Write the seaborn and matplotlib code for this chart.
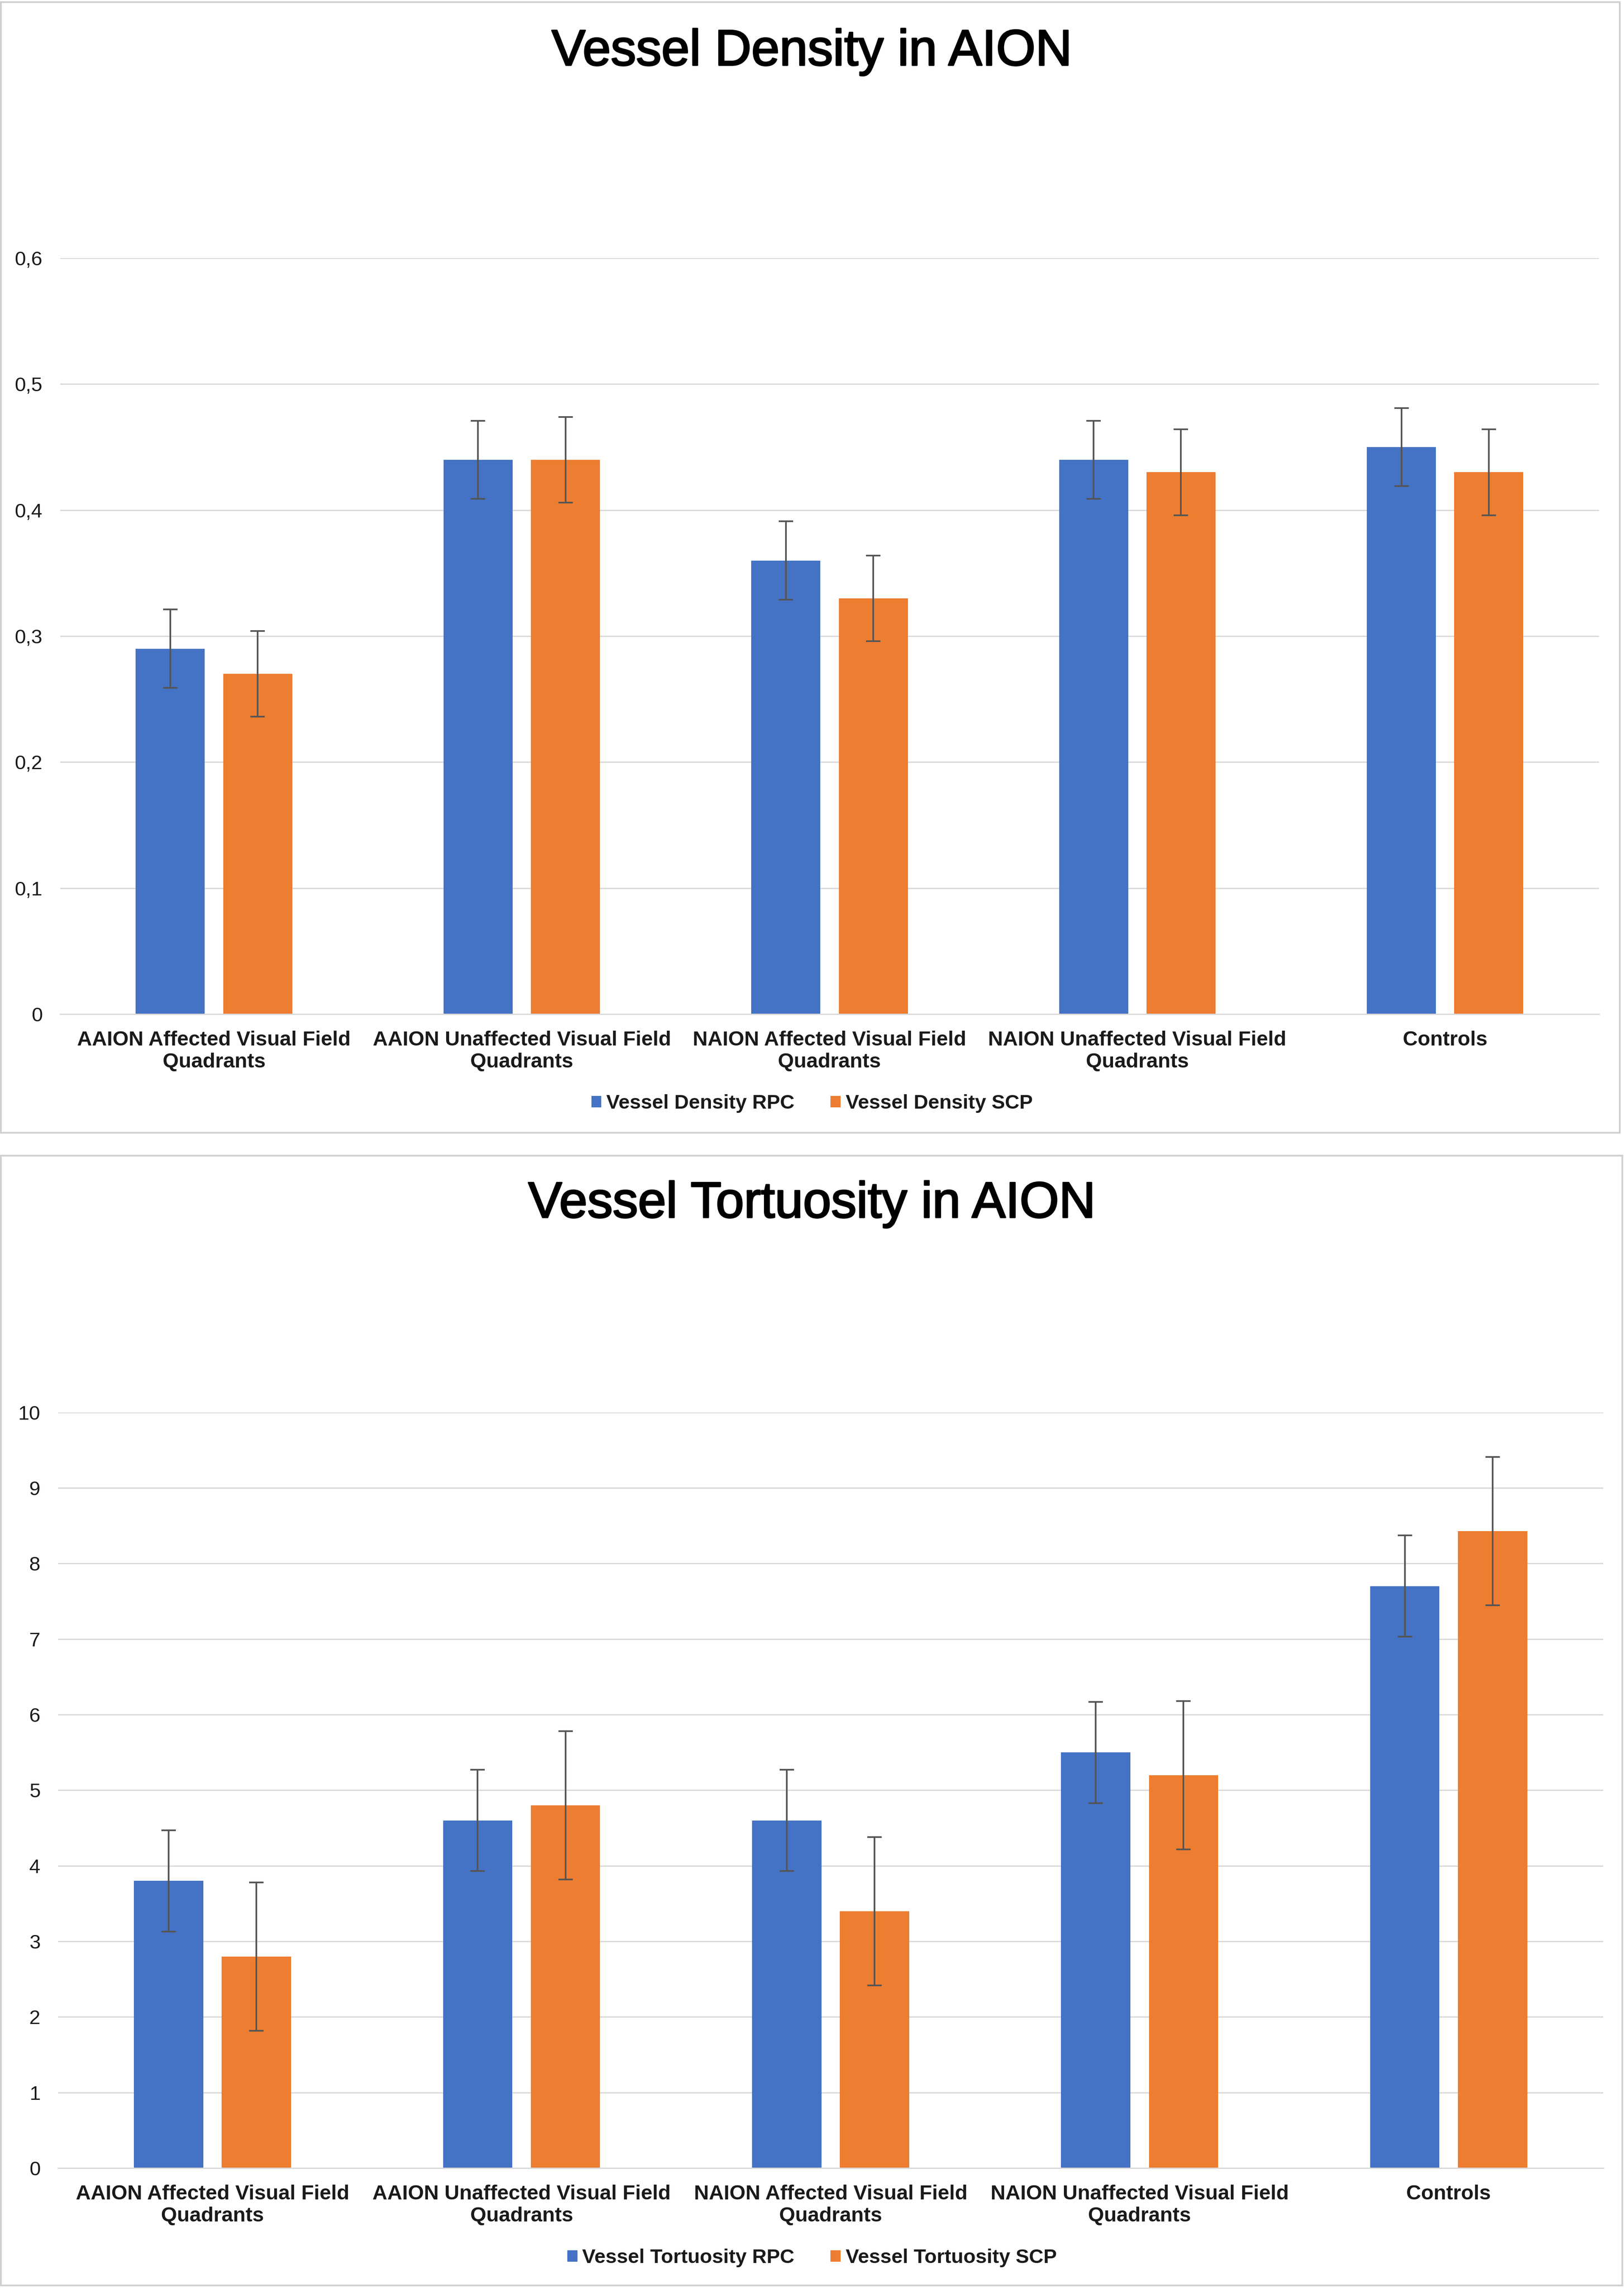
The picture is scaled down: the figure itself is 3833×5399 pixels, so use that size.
import seaborn as sns
import matplotlib.pyplot as plt
import matplotlib.patheffects as pe
import pandas as pd
from matplotlib.patches import Rectangle
from matplotlib.ticker import FuncFormatter

categories = [
    "AAION Affected Visual Field\nQuadrants",
    "AAION Unaffected Visual Field\nQuadrants",
    "NAION Affected Visual Field\nQuadrants",
    "NAION Unaffected Visual Field\nQuadrants",
    "Controls",
]

density_rpc = [0.29, 0.44, 0.36, 0.44, 0.45]
density_scp = [0.27, 0.44, 0.33, 0.43, 0.43]
density_rpc_err = [0.031, 0.031, 0.031, 0.031, 0.031]
density_scp_err = [0.034, 0.034, 0.034, 0.034, 0.034]

tortuosity_rpc = [3.8, 4.6, 4.6, 5.5, 7.7]
tortuosity_scp = [2.8, 4.8, 3.4, 5.2, 8.43]
tortuosity_rpc_err = [0.67, 0.67, 0.67, 0.67, 0.67]
tortuosity_scp_err = [0.98, 0.98, 0.98, 0.98, 0.98]

BLUE = "#4472C4"
ORANGE = "#ED7D31"
GRID = "#D9D9D9"

sns.set_style("white")
plt.rcParams['font.family'] = ['Liberation Sans', 'DejaVu Sans']

fig = plt.figure(figsize=(38.33, 53.99), dpi=100)


def comma_fmt(v, pos):
    if abs(v) < 1e-9:
        return "0"
    if float(v).is_integer():
        return f"{int(v)}"
    return f"{v:.1f}".replace(".", ",")


def draw_panel(rect, title, title_y, legend_y, names, rpc, scp, rpc_err, scp_err, ymax, ystep):
    df = pd.DataFrame({
        "Group": categories * 2,
        "Value": rpc + scp,
        "Series": [names[0]] * len(categories) + [names[1]] * len(categories),
    })
    ax = fig.add_axes(rect)
    sns.barplot(data=df, x="Group", y="Value", hue="Series", ax=ax,
                palette=[BLUE, ORANGE], errorbar=None, width=0.568, gap=0.21,
                saturation=1, linewidth=0)
    # error bars centred on the drawn bars
    for cont, errs in zip(ax.containers, [rpc_err, scp_err]):
        xs = [b.get_x() + b.get_width() / 2 for b in cont]
        ys = [b.get_height() for b in cont]
        ax.errorbar(xs, ys, yerr=errs, fmt="none", ecolor="#555555",
                    elinewidth=2.8, capsize=12, capthick=2.8, zorder=5)
    ax.set_xlim(-0.5, len(categories) - 0.5)
    ax.set_ylim(0, ymax)
    ax.set_yticks([i * ystep for i in range(int(round(ymax / ystep)) + 1)])
    ax.yaxis.set_major_formatter(FuncFormatter(comma_fmt))
    ax.yaxis.grid(True, color=GRID, linewidth=2.2)
    ax.set_axisbelow(True)
    for s in ["left", "right", "top"]:
        ax.spines[s].set_visible(False)
    ax.spines["bottom"].set_color(GRID)
    ax.spines["bottom"].set_linewidth(2.2)
    ax.tick_params(axis="y", length=0, pad=30, labelsize=34, labelcolor="#1a1a1a")
    ax.tick_params(axis="x", length=0, pad=28, labelsize=35, labelcolor="#1a1a1a")
    for lbl in ax.get_xticklabels():
        lbl.set_fontweight("bold")
    ax.set_xlabel("")
    ax.set_ylabel("")
    sns.move_legend(ax, "center", bbox_to_anchor=(0.5, legend_y),
                    bbox_transform=fig.transFigure, ncol=2, frameon=False,
                    title=None, fontsize=34, handlelength=0.5, handleheight=0.5,
                    handletextpad=0.25, columnspacing=1.8)
    for t in ax.get_legend().get_texts():
        t.set_fontweight("bold")
        t.set_color("#1a1a1a")
    fig.text(0.5, title_y, title, ha="center", va="baseline", fontsize=86, color="black",
             path_effects=[pe.withStroke(linewidth=2.5, foreground="black")])
    return ax


draw_panel([0.0370, 0.5568, 0.9476, 0.3304], "Vessel Density in AION", 0.9715, 0.5177,
           ["Vessel Density RPC", "Vessel Density SCP"],
           density_rpc, density_scp, density_rpc_err, density_scp_err, 0.6, 0.1)

draw_panel([0.0357, 0.0524, 0.9515, 0.3303], "Vessel Tortuosity in AION", 0.4679, 0.01315,
           ["Vessel Tortuosity RPC", "Vessel Tortuosity SCP"],
           tortuosity_rpc, tortuosity_scp, tortuosity_rpc_err, tortuosity_scp_err, 10, 1)

# chart area borders
W, H = 3833.0, 5399.0
for x0, y0, x1, y1 in [(2, 5, 3823, 2673), (2, 2727, 3829, 5393)]:
    fig.add_artist(Rectangle((x0 / W, 1 - y1 / H), (x1 - x0) / W, (y1 - y0) / H,
                             transform=fig.transFigure, fill=False,
                             edgecolor="#D0D0D0", linewidth=3))

fig.savefig("out.png", dpi=100)
